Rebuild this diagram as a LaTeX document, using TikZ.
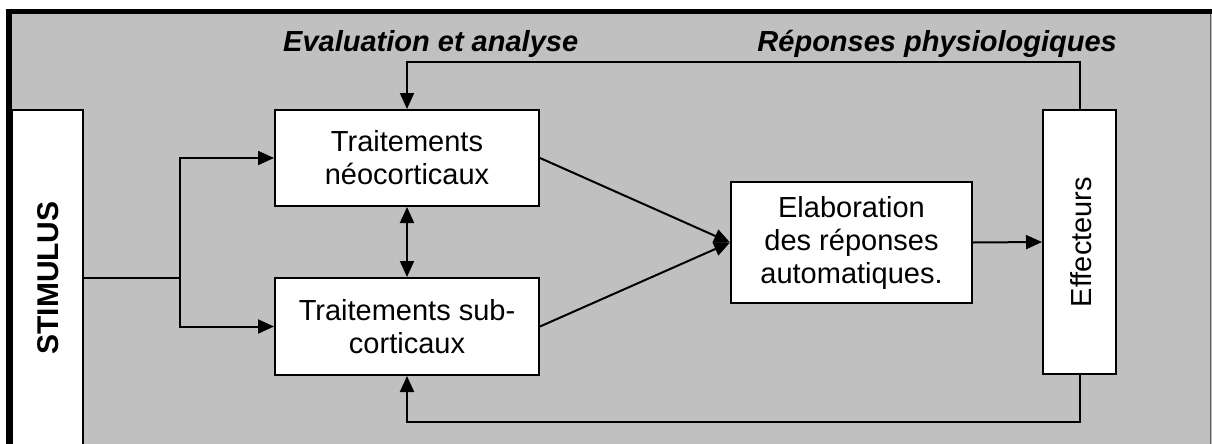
\documentclass[tikz,border=0pt]{standalone}
\usepackage{fontspec}
\setmainfont{Liberation Sans}
\usetikzlibrary{arrows.meta}
\definecolor{bggray}{HTML}{C0C0C0}
\begin{document}
\begin{tikzpicture}[x=1pt,y=-1pt,
  box/.style={draw=black,line width=2pt,fill=white,rectangle,inner sep=0pt,align=center,
    font=\fontsize{29}{33}\selectfont},
  txt/.style={inner sep=0pt,font=\fontsize{29}{33}\selectfont},
  conn/.style={draw=black,line width=2pt},
  arr/.style={conn,-{Triangle[length=16pt,width=14pt]}},
  darr/.style={conn,{Triangle[length=16pt,width=14pt]}-{Triangle[length=16pt,width=14pt]}}
]
\useasboundingbox (0,0) rectangle (1212,444);
% background frame
\fill[bggray] (9,11.5) rectangle (1212,444);
\draw[gray!70!black,line width=1pt] (1210.5,13) -- (1210.5,444);
% boxes
\node[box,minimum width=71pt,minimum height=336pt] (stim) at (47.5,278) {};
\node[txt,rotate=90,font=\fontsize{30}{33}\selectfont\bfseries] (stimt) at (48,278) {STIMULUS};
\node[box,minimum width=264pt,minimum height=96pt] (neo) at (407,158) {Traitements\\néocorticaux};
\node[box,minimum width=264pt,minimum height=97pt] (sub) at (407,326.5) {Traitements sub-\\corticaux};
\node[box,minimum width=241pt,minimum height=121pt] (elab) at (851.5,242.5) {Elaboration\\des réponses\\automatiques.};
\node[box,minimum width=73pt,minimum height=264pt] (eff) at (1079.5,242) {};
\node[txt,rotate=90] (efft) at (1081,242) {Effecteurs};
% frame borders
\draw[black,line width=5pt] (6,11.5) -- (1212,11.5);
\draw[black,line width=6pt] (9,9) -- (9,444);
% labels
\node[txt,anchor=base west,font=\fontsize{29}{33}\selectfont\bfseries\itshape] (l1) at (283,52) {Evaluation et analyse};
\node[txt,anchor=base east,font=\fontsize{29}{33}\selectfont\bfseries\itshape] (l2) at (1117,52) {Réponses physiologiques};
% connectors
\coordinate (j) at (180,278);
\draw[conn] (stim.east |- j) -- (j);
\draw[arr] (j) |- (neo.west);
\draw[arr] (j) |- (sub.west);
\draw[darr] (neo.south) -- (sub.north);
\draw[arr] (neo.east) -- (elab.west);
\draw[arr] (sub.east) -- (elab.west);
\draw[arr] (elab.east) -- (eff.west);
\coordinate (tr) at (1079.5,62);
\coordinate (tl) at (407,62);
\draw[arr] (eff.north) -- (tr) -- (tl) -- (neo.north);
\coordinate (br) at (1079.5,422);
\coordinate (bl) at (407,422);
\draw[arr] (eff.south) -- (br) -- (bl) -- (sub.south);
\end{tikzpicture}
\end{document}
